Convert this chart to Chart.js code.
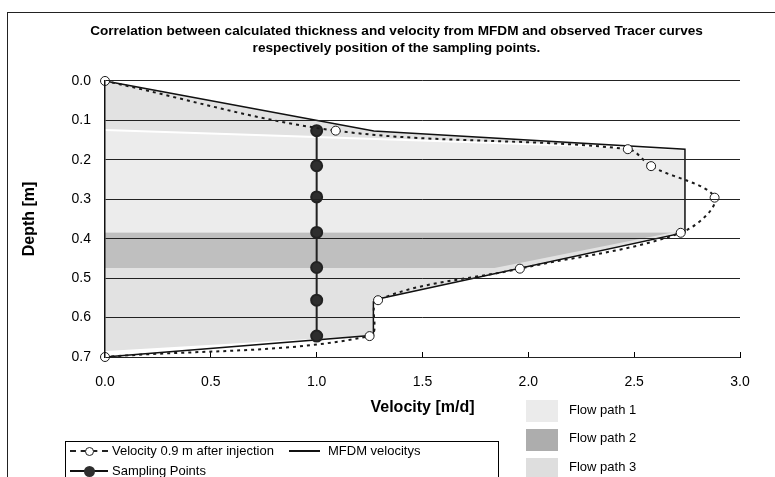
<!doctype html>
<html lang="en">
<head>
<meta charset="UTF-8" />
<title>Correlation between calculated thickness and velocity</title>
<script src="https://cdn.jsdelivr.net/npm/chart.js"></script>
<style>
  body { margin: 0; background: #fff; font-family: 'Liberation Sans', Arial, sans-serif; }
  #wrap { position: relative; width: 775px; height: 477px; overflow: hidden; background: #fff; }
  #chart { position: absolute; left: 0; top: 0; }
  .frame { position: absolute; left: 7px; top: 12px; width: 900px; height: 600px; border: 1px solid #222; }
  .box { position: absolute; left: 65px; top: 441px; width: 432px; height: 80px; border: 1px solid #000; }
  .txt { position: absolute; font-size: 13px; line-height: 16px; color: #000; white-space: nowrap; }
  .dash { position: absolute; height: 0; border-top: 2px dashed #222; }
  .solid { position: absolute; height: 0; border-top: 2px solid #111; }
  .dot { position: absolute; border-radius: 50%; box-sizing: border-box; }
  .swatch { position: absolute; left: 526px; width: 32px; height: 22px; }
</style>
</head>
<body>
<div id="wrap">
  <div class="frame"></div>
  <canvas id="chart" width="775" height="477"></canvas>

  <div class="box"></div>
  <div class="dash" style="left:70px;top:450px;width:38px"></div>
  <div class="dot" style="left:84.5px;top:446.5px;width:9px;height:9px;background:#fff;border:1px solid #222"></div>
  <div class="txt" style="left:112px;top:443px">Velocity 0.9 m after injection</div>
  <div class="solid" style="left:289px;top:450px;width:31px"></div>
  <div class="txt" style="left:328px;top:443px">MFDM velocitys</div>
  <div class="solid" style="left:70px;top:470px;width:38px"></div>
  <div class="dot" style="left:83.5px;top:465.5px;width:11px;height:11px;background:#2e2e2e"></div>
  <div class="txt" style="left:112px;top:463px">Sampling Points</div>

  <div class="swatch" style="top:400px;background:#ebebeb"></div>
  <div class="txt" style="left:569px;top:402px">Flow path 1</div>
  <div class="swatch" style="top:429px;background:#adadad"></div>
  <div class="txt" style="left:569px;top:430px">Flow path 2</div>
  <div class="swatch" style="top:458px;background:#dedede"></div>
  <div class="txt" style="left:569px;top:459px">Flow path 3</div>
</div>
<script>
  const chartTitle = [
    'Correlation between calculated thickness and velocity from MFDM and observed Tracer curves',
    'respectively position of the sampling points.'
  ]

  // tracer curve, 0.9 m after injection
  const tracerVelocity = [0, 1.09, 2.47, 2.58, 2.88, 2.72, 1.96, 1.29, 1.25, 0]
  const tracerDepth = [0, 0.126, 0.173, 0.216, 0.296, 0.385, 0.476, 0.556, 0.647, 0.70]

  // MFDM velocity profile
  const mfdmVelocity = [0, 1.27, 2.74, 2.74, 1.29, 1.268, 1.268, 0]
  const mfdmDepth = [0, 0.127, 0.173, 0.384, 0.553, 0.56, 0.645, 0.70]

  const samplingVelocity = [1, 1, 1, 1, 1, 1, 1]
  const samplingDepth = [0.126, 0.215, 0.294, 0.384, 0.473, 0.556, 0.647]

  // flow path areas
  const flowPath1Velocity = [0, 2.74, 2.74, 0]
  const flowPath1Depth = [0.1245, 0.173, 0.384, 0.384]
  const flowPath2Velocity = [0, 2.68, 1.84, 0]
  const flowPath2Depth = [0.384, 0.384, 0.474, 0.474]
  const flowPath3Velocity = [0, 1.27, 2.74, 2.74, 1.29, 1.268, 1.268, 0]
  const flowPath3Depth = [0, 0.127, 0.173, 0.384, 0.553, 0.56, 0.645, 0.685]

  const toPoints = (xs, ys) => xs.map((x, i) => ({ x: x, y: ys[i] }))
  const noLine = 'rgba(0,0,0,0)'

  Chart.defaults.font.family = "'Liberation Sans', Arial, sans-serif"
  Chart.defaults.color = '#000'

  new Chart(document.getElementById('chart'), {
    type: 'line',
    data: {
      datasets: [
        {
          label: 'Velocity 0.9 m after injection',
          data: toPoints(tracerVelocity, tracerDepth),
          borderColor: '#1a1a1a',
          borderWidth: 2,
          borderDash: [3, 4],
          tension: 0.35,
          pointRadius: 4.5,
          pointBackgroundColor: '#fff',
          pointBorderColor: '#1a1a1a',
          pointBorderWidth: 1,
          fill: false,
          clip: false,
          order: 0
        },
        {
          label: 'Sampling Points',
          data: toPoints(samplingVelocity, samplingDepth),
          borderColor: '#222',
          borderWidth: 2,
          pointRadius: 5.5,
          pointBackgroundColor: '#2e2e2e',
          pointBorderColor: '#222',
          fill: false,
          clip: false,
          order: 1
        },
        {
          label: 'MFDM velocitys',
          data: toPoints(mfdmVelocity, mfdmDepth),
          borderColor: '#111',
          borderWidth: 1.5,
          pointRadius: 0,
          fill: false,
          order: 2
        },
        {
          label: 'Flow path 1 edge',
          data: toPoints(flowPath1Velocity.slice(0, 2), flowPath1Depth.slice(0, 2)),
          borderColor: '#fff',
          borderWidth: 2,
          pointRadius: 0,
          fill: false,
          order: 3
        },
        {
          label: 'Flow path 2',
          data: toPoints(flowPath2Velocity, flowPath2Depth),
          borderColor: noLine,
          borderWidth: 0,
          backgroundColor: '#bfbfbf',
          pointRadius: 0,
          fill: 'origin',
          order: 4
        },
        {
          label: 'Flow path 1',
          data: toPoints(flowPath1Velocity, flowPath1Depth),
          borderColor: noLine,
          borderWidth: 0,
          backgroundColor: '#ececec',
          pointRadius: 0,
          fill: 'origin',
          order: 5
        },
        {
          label: 'Flow path 3',
          data: toPoints(flowPath3Velocity, flowPath3Depth),
          borderColor: noLine,
          borderWidth: 0,
          backgroundColor: '#e2e2e2',
          pointRadius: 0,
          fill: 'origin',
          order: 6
        }
      ]
    },
    options: {
      responsive: false,
      animation: false,
      indexAxis: 'y',
      layout: { padding: { left: 53, right: 35, top: 12, bottom: 57 } },
      plugins: {
        legend: { display: false },
        tooltip: { enabled: false },
        title: {
          display: true,
          text: chartTitle,
          color: '#000',
          font: { size: 13.6, weight: 'bold', lineHeight: 1.3 },
          padding: { top: 10.2, bottom: 23.4 }
        }
      },
      scales: {
        x: {
          type: 'linear',
          position: 'bottom',
          min: 0,
          max: 3,
          afterFit: (s) => { s.height = 63 },
          ticks: { stepSize: 0.5, padding: 22, font: { size: 14 }, maxRotation: 0, callback: (v) => v.toFixed(1) },
          grid: { drawOnChartArea: false, drawTicks: true, tickLength: -5, color: '#000' },
          border: { display: true, color: '#000', width: 1 },
          title: {
            display: true,
            text: 'Velocity [m/d]',
            font: { size: 16, weight: 'bold' },
            padding: { top: 0, bottom: 2.4 }
          }
        },
        y: {
          type: 'linear',
          position: 'left',
          reverse: true,
          min: 0,
          max: 0.7,
          afterFit: (s) => { s.width = 52 },
          ticks: { stepSize: 0.1, padding: 14, font: { size: 14 }, callback: (v) => v.toFixed(1) },
          grid: { color: '#222', drawTicks: false, z: 1 }, // grid drawn over the flow path areas
          border: { display: true, color: '#111', width: 1.5, z: 1 },
          title: {
            display: true,
            text: 'Depth [m]',
            font: { size: 16, weight: 'bold' },
            padding: { top: -32.6, bottom: 0 } // pulls the title left of the padded box
          }
        }
      }
    }
  })
</script>
</body>
</html>
